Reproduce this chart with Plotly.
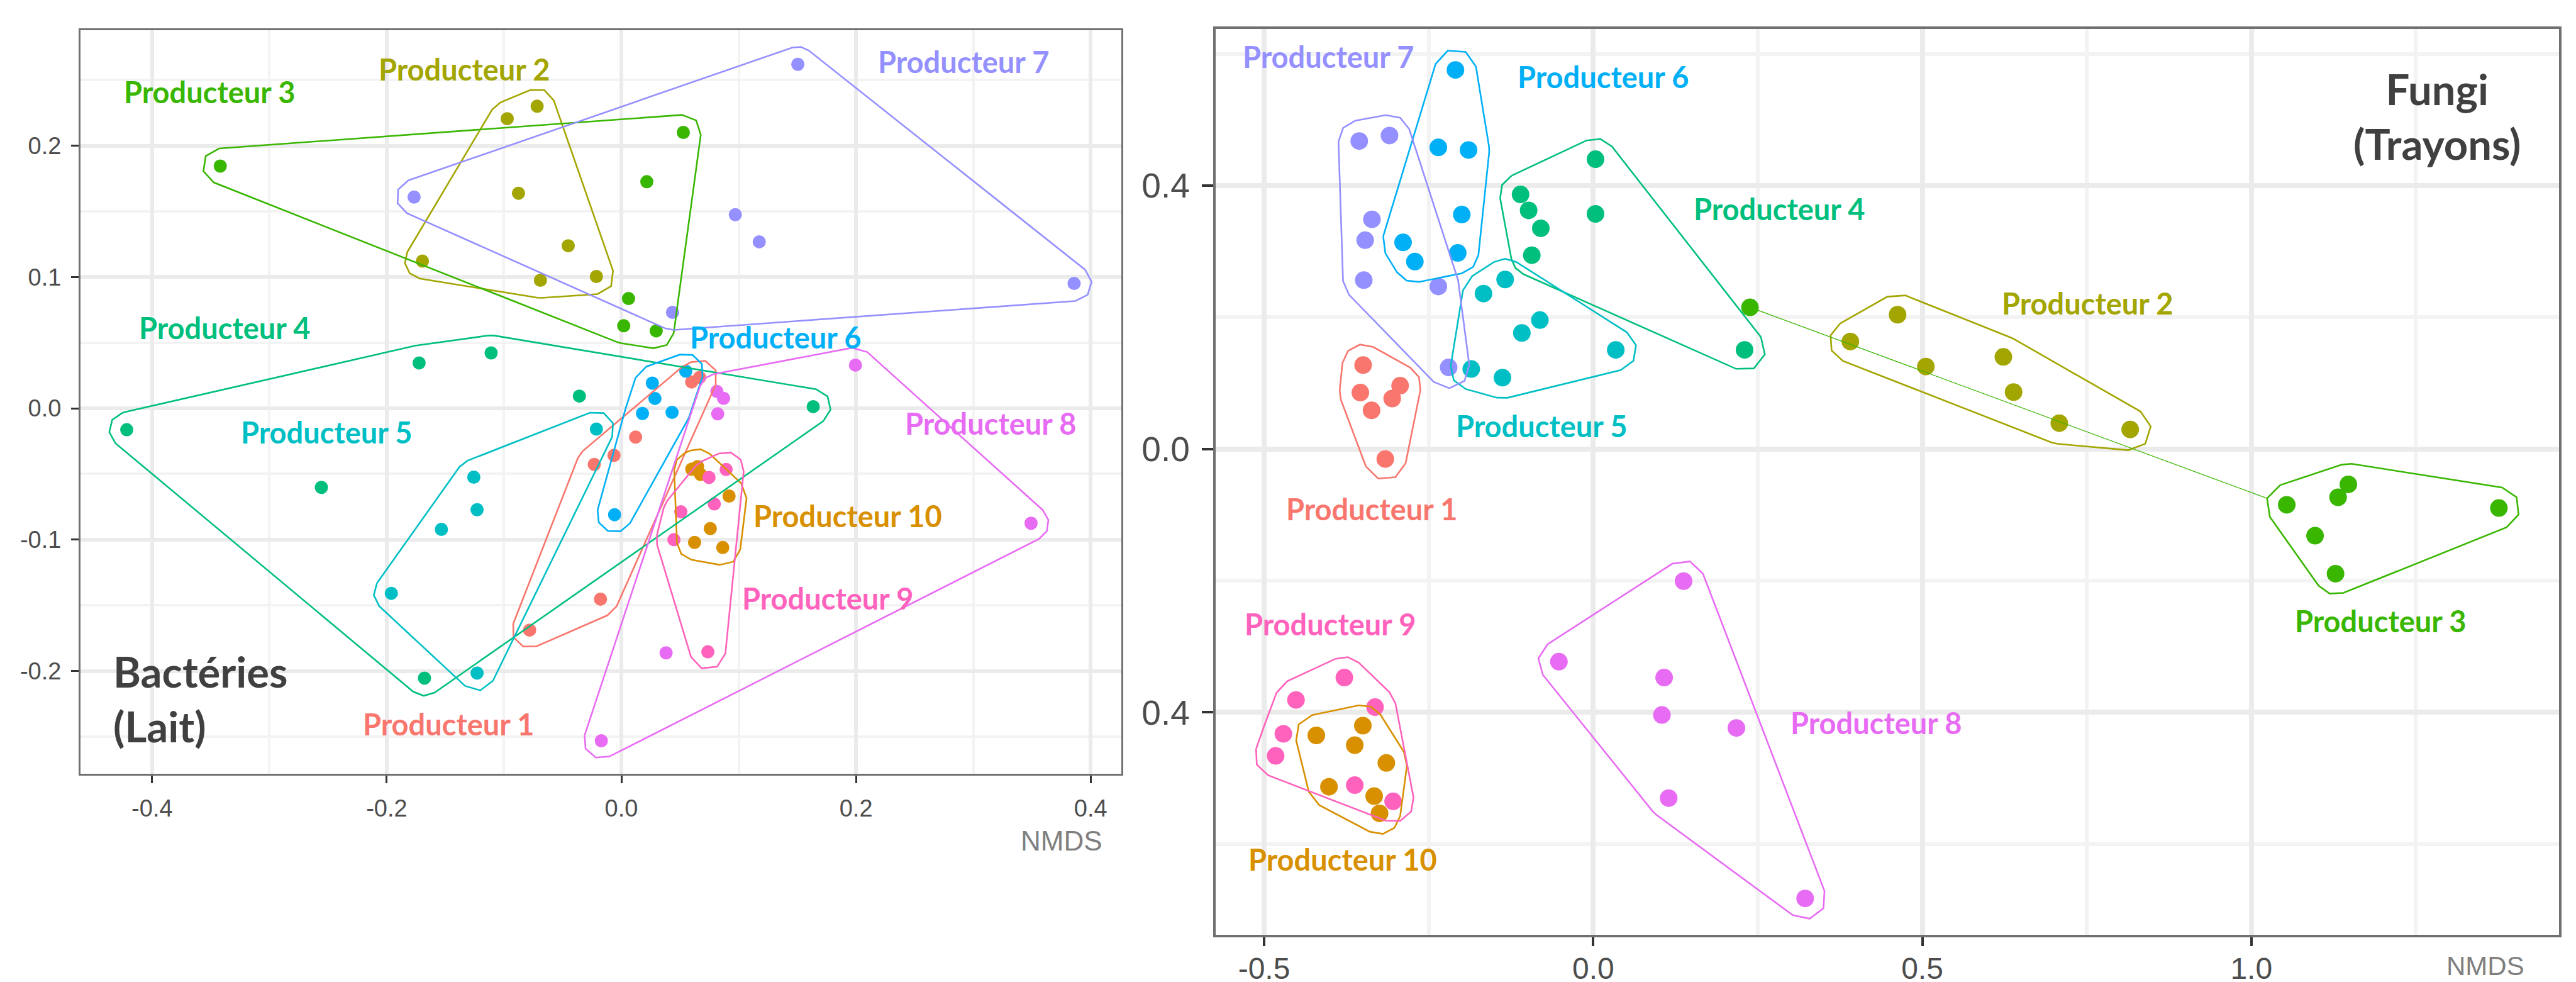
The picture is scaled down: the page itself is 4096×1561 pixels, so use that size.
import numpy as np
import plotly.graph_objects as go

# ---------------- data ----------------
groups = ["Producteur 1", "Producteur 10", "Producteur 2", "Producteur 3", "Producteur 4",
          "Producteur 5", "Producteur 6", "Producteur 7", "Producteur 8", "Producteur 9"]
group_colors = ["#F8766D", "#D89000", "#A3A500", "#39B600", "#00BF7D",
                "#00BFC4", "#00B0F6", "#9590FF", "#E76BF3", "#FF62BC"]

# Bactéries (Lait) NMDS coordinates
bact_x = {
    "Producteur 1": [0.0599, 0.0667, 0.0121, -0.0063, -0.0231, -0.0178, -0.0782],
    "Producteur 10": [0.0600, 0.0650, 0.0675, 0.0918, 0.0758, 0.0624, 0.0864],
    "Producteur 2": [-0.0973, -0.0718, -0.0877, -0.0453, -0.1696, -0.0690, -0.0213],
    "Producteur 3": [-0.3419, 0.0528, 0.0217, 0.0061, 0.0020, 0.0297],
    "Producteur 4": [-0.4216, -0.1724, -0.1110, -0.0358, 0.1635, -0.2557, -0.1678],
    "Producteur 5": [-0.0213, -0.1258, -0.1230, -0.1534, -0.1961, -0.1230],
    "Producteur 6": [0.0549, 0.0264, 0.0286, 0.0180, 0.0432, -0.0058],
    "Producteur 7": [-0.1767, 0.1504, 0.0971, 0.1175, 0.3859, 0.0436],
    "Producteur 8": [0.1995, 0.0814, 0.0871, 0.0821, 0.3492, 0.0381, -0.0171],
    "Producteur 9": [0.0747, 0.0893, 0.0792, 0.0507, 0.0448, 0.0737],
}
bact_y = {
    "Producteur 1": [0.0201, 0.0235, -0.0219, -0.0358, -0.0427, -0.1453, -0.1689],
    "Producteur 10": [-0.0463, -0.0444, -0.0504, -0.0668, -0.0916, -0.1021, -0.1060],
    "Producteur 2": [0.2206, 0.2301, 0.1638, 0.1238, 0.1121, 0.0975, 0.1004],
    "Producteur 3": [0.1845, 0.2101, 0.1726, 0.0836, 0.0629, 0.0590],
    "Producteur 4": [-0.0163, 0.0346, 0.0422, 0.0093, 0.0013, -0.0602, -0.2055],
    "Producteur 5": [-0.0158, -0.0524, -0.0772, -0.0922, -0.1409, -0.2016],
    "Producteur 6": [0.0283, 0.0192, 0.0075, -0.0039, -0.0031, -0.0810],
    "Producteur 7": [0.1609, 0.2620, 0.1475, 0.1268, 0.0951, 0.0731],
    "Producteur 8": [0.0329, 0.0129, 0.0076, -0.0042, -0.0875, -0.1862, -0.2532],
    "Producteur 9": [-0.0526, -0.0466, -0.0728, -0.0788, -0.1000, -0.1854],
}

# Fungi (Trayons) NMDS coordinates
fungi_x = {
    "Producteur 1": [-0.3496, -0.3538, -0.3368, -0.2934, -0.3054, -0.3159],
    "Producteur 10": [-0.4207, -0.3500, -0.3623, -0.3143, -0.4015, -0.3328, -0.3246],
    "Producteur 2": [0.4625, 0.3907, 0.5054, 0.6232, 0.6387, 0.7082, 0.8159],
    "Producteur 3": [0.2382, 1.0538, 1.1474, 1.1318, 1.3761, 1.0968, 1.1279],
    "Producteur 4": [0.0035, -0.1104, -0.0981, -0.0796, 0.0035, -0.0933, 0.2300],
    "Producteur 5": [-0.1338, -0.1667, -0.0810, -0.1084, 0.0343, -0.1853, -0.1379],
    "Producteur 6": [-0.2093, -0.2353, -0.1894, -0.1997, -0.2889, -0.2710, -0.2058],
    "Producteur 7": [-0.3555, -0.3095, -0.3362, -0.3465, -0.3486, -0.2353, -0.2196],
    "Producteur 8": [0.1373, -0.0521, 0.1078, 0.1044, 0.2176, 0.1147, 0.3220],
    "Producteur 9": [-0.3781, -0.4516, -0.3315, -0.4708, -0.4825, -0.3623, -0.3040],
}
fungi_y = {
    "Producteur 1": [0.1275, 0.0857, 0.0588, 0.0962, 0.0767, -0.0152],
    "Producteur 10": [-0.4349, -0.4201, -0.4497, -0.4768, -0.5129, -0.5272, -0.5533],
    "Producteur 2": [0.2040, 0.1632, 0.1253, 0.1399, 0.0865, 0.0393, 0.0297],
    "Producteur 3": [0.2152, -0.0847, -0.0536, -0.0733, -0.0896, -0.1316, -0.1893],
    "Producteur 4": [0.4402, 0.3867, 0.3624, 0.3352, 0.3571, 0.2944, 0.1506],
    "Producteur 5": [0.2575, 0.2361, 0.1958, 0.1763, 0.1506, 0.1215, 0.1084],
    "Producteur 6": [0.5757, 0.4581, 0.4542, 0.3561, 0.3138, 0.2847, 0.2978],
    "Producteur 7": [0.4678, 0.4761, 0.3488, 0.3172, 0.2565, 0.2468, 0.1239],
    "Producteur 8": [-0.2006, -0.3229, -0.3471, -0.4039, -0.4236, -0.5301, -0.6825],
    "Producteur 9": [-0.3471, -0.3811, -0.3920, -0.4325, -0.4660, -0.5104, -0.5350],
}
# points linked to their group's hull by a thin line (index within the group)
fungi_linked = {"Producteur 3": 0}

# tick labels
bact_xticks = [-0.4, -0.2, 0.0, 0.2, 0.4]
bact_xticklabels = ["-0.4", "-0.2", "0.0", "0.2", "0.4"]
bact_yticks = [-0.2, -0.1, 0.0, 0.1, 0.2]
bact_yticklabels = ["-0.2", "-0.1", "0.0", "0.1", "0.2"]
fungi_xticks = [-0.5, 0.0, 0.5, 1.0]
fungi_xticklabels = ["-0.5", "0.0", "0.5", "1.0"]
fungi_yticks = [-0.4, 0.0, 0.4]
fungi_yticklabels = ["0.4", "0.0", "0.4"]

# group label positions (data units)
bact_label_pos = {
    "Producteur 1": (-0.147, -0.2406), "Producteur 10": (0.1932, -0.0817),
    "Producteur 2": (-0.134, 0.2581), "Producteur 3": (-0.351, 0.2408),
    "Producteur 4": (-0.338, 0.0616), "Producteur 5": (-0.2513, -0.018),
    "Producteur 6": (0.1315, 0.0541), "Producteur 7": (0.2918, 0.2639),
    "Producteur 8": (0.315, -0.0114), "Producteur 9": (0.1763, -0.1446),
}
fungi_label_pos = {
    "Producteur 1": (-0.3359, -0.0909), "Producteur 10": (-0.3805, -0.6234),
    "Producteur 2": (0.7511, 0.2217), "Producteur 3": (1.1962, -0.2608),
    "Producteur 4": (0.283, 0.3643), "Producteur 5": (-0.0785, 0.0355),
    "Producteur 6": (0.0159, 0.5655), "Producteur 7": (-0.4025, 0.596),
    "Producteur 8": (0.4305, -0.4156), "Producteur 9": (-0.3995, -0.2658),
}

# ---------------- layout geometry ----------------
W, H = 4096, 1561
L_XD, L_YD = [0.02926, 0.43342], [0.21717, 0.97414]
L_XR, L_YR = [-0.4611, 0.4263], [-0.2783, 0.2878]
R_XD, R_YD = [0.46995, 0.99141], [0.05300, 0.97559]
R_XR, R_YR = [-0.5737, 1.4673], [-0.7380, 0.6379]


def px_scale(xd, yd, xr, yr):
    return ((xd[1] - xd[0]) * W / (xr[1] - xr[0]),
            (yd[1] - yd[0]) * H / (yr[1] - yr[0]))


def expanded_hull(xs, ys, sx, sy, r, step=np.radians(55)):
    """Convex hull expanded by r pixels with (segmented) round corners."""
    pts = sorted(set(zip((np.array(xs) * sx).tolist(), (np.array(ys) * sy).tolist())))

    def cross(o, a, b):
        return (a[0] - o[0]) * (b[1] - o[1]) - (a[1] - o[1]) * (b[0] - o[0])

    lower, upper = [], []
    for p in pts:
        while len(lower) >= 2 and cross(lower[-2], lower[-1], p) <= 0:
            lower.pop()
        lower.append(p)
    for p in reversed(pts):
        while len(upper) >= 2 and cross(upper[-2], upper[-1], p) <= 0:
            upper.pop()
        upper.append(p)
    hull = lower[:-1] + upper[:-1]
    n = len(hull)
    out = []
    for i in range(n):
        p0, p1, p2 = np.array(hull[i - 1]), np.array(hull[i]), np.array(hull[(i + 1) % n])
        e1, e2 = p1 - p0, p2 - p1
        n1 = np.array([e1[1], -e1[0]]) / np.hypot(*e1)
        n2 = np.array([e2[1], -e2[0]]) / np.hypot(*e2)
        t1 = np.arctan2(n1[1], n1[0])
        t2 = np.arctan2(n2[1], n2[0])
        turn = (t2 - t1) % (2 * np.pi)
        k = max(1, int(np.ceil(turn / step)))
        for t in np.linspace(t1, t1 + turn, k + 1):
            out.append(p1 + r * np.array([np.cos(t), np.sin(t)]))
    out.append(out[0])
    out = np.array(out)
    return out[:, 0] / sx, out[:, 1] / sy


fig = go.Figure()


def add_panel(xd, yd, xr, yr, data_x, data_y, xa, ya, msize, r, lw, linked=None):
    linked = linked or {}
    sx, sy = px_scale(xd, yd, xr, yr)
    for g, c in zip(groups, group_colors):
        fig.add_trace(go.Scatter(x=data_x[g], y=data_y[g], mode="markers", xaxis=xa, yaxis=ya,
                                 marker=dict(size=msize, color=c, line=dict(width=0)),
                                 hoverinfo="skip", showlegend=False))
    for g, c in zip(groups, group_colors):
        xs, ys = list(data_x[g]), list(data_y[g])
        link = None
        if g in linked:
            j = linked[g]
            link = (xs.pop(j), ys.pop(j))
        hx, hy = expanded_hull(xs, ys, sx, sy, r)
        fig.add_trace(go.Scatter(x=hx, y=hy, mode="lines", xaxis=xa, yaxis=ya,
                                 line=dict(color=c, width=lw), hoverinfo="skip", showlegend=False))
        if link is not None:
            dist = np.hypot((hx - link[0]) * sx, (hy - link[1]) * sy)
            k = int(np.argmin(dist))
            fig.add_trace(go.Scatter(x=[link[0], hx[k]], y=[link[1], hy[k]], mode="lines",
                                     xaxis=xa, yaxis=ya, line=dict(color=c, width=1.3),
                                     hoverinfo="skip", showlegend=False))


add_panel(L_XD, L_YD, L_XR, L_YR, bact_x, bact_y, "x", "y", 21, 28, 2.6)
add_panel(R_XD, R_YD, R_XR, R_YR, fungi_x, fungi_y, "x2", "y2", 28, 33, 2.6, fungi_linked)

LABEL_FONT = "Lato"
annotations = []
for g, c in zip(groups, group_colors):
    lx, ly = bact_label_pos[g]
    annotations.append(dict(x=lx, y=ly, xref="x", yref="y", text=g, showarrow=False,
                            xanchor="center", yanchor="middle",
                            font=dict(family=LABEL_FONT, size=47, color=c, weight=700)))
    fx, fy = fungi_label_pos[g]
    annotations.append(dict(x=fx, y=fy, xref="x2", yref="y2", text=g, showarrow=False,
                            xanchor="center", yanchor="middle",
                            font=dict(family=LABEL_FONT, size=47, color=c, weight=700)))

annotations.append(dict(x=-0.4343, y=-0.2212, xref="x", yref="y", text="Bactéries<br>(Lait)",
                        showarrow=False, xanchor="left", yanchor="middle", align="left",
                        font=dict(family=LABEL_FONT, size=67, color="#404040", weight=700)))
annotations.append(dict(x=1.2817, y=0.5058, xref="x2", yref="y2", text="Fungi<br>(Trayons)",
                        showarrow=False, xanchor="center", yanchor="middle", align="center",
                        font=dict(family=LABEL_FONT, size=67, color="#404040", weight=700)))
annotations.append(dict(x=0.42644, y=0.14882, xref="paper", yref="paper", text="NMDS",
                        showarrow=False, xanchor="right", yanchor="middle",
                        font=dict(family="Liberation Sans", size=44, color="#7F7F7F")))
annotations.append(dict(x=0.97847, y=0.0215, xref="paper", yref="paper", text="NMDS",
                        showarrow=False, xanchor="right", yanchor="middle",
                        font=dict(family="Liberation Sans", size=42, color="#7F7F7F")))


def axis_common(domain, rng, tickvals, ticktext, minor_vals, anchor, fsize, lwidth, tlen,
                gmaj, gmin, standoff):
    return dict(domain=domain, range=rng, anchor=anchor, tickmode="array",
                tickvals=tickvals, ticktext=ticktext, showgrid=True, gridcolor="#EBEBEB",
                gridwidth=gmaj, zeroline=False, showline=True, mirror=True,
                linecolor="#707070", linewidth=lwidth, ticks="outside", ticklen=tlen,
                tickwidth=lwidth, tickcolor="#333333", ticklabelstandoff=standoff,
                tickfont=dict(family="Liberation Sans", size=fsize, color="#4D4D4D"),
                minor=dict(tickvals=minor_vals, showgrid=True, gridcolor="#F3F3F3",
                           gridwidth=gmin, ticks=""))


fig.update_layout(
    width=W, height=H, autosize=False, margin=dict(l=0, r=0, t=0, b=0),
    paper_bgcolor="white", plot_bgcolor="white", showlegend=False,
    xaxis=axis_common(L_XD, L_XR, bact_xticks, bact_xticklabels, [-0.3, -0.1, 0.1, 0.3],
                      "y", 38, 2.6, 12, 6, 4, 8),
    yaxis=axis_common(L_YD, L_YR, bact_yticks, bact_yticklabels,
                      [-0.25, -0.15, -0.05, 0.05, 0.15, 0.25], "x", 38, 2.6, 12, 6, 4, 8),
    xaxis2=axis_common(R_XD, R_XR, fungi_xticks, fungi_xticklabels, [-0.25, 0.25, 0.75, 1.25],
                       "y2", 48, 4.2, 14, 8, 6, -6),
    yaxis2=axis_common(R_YD, R_YR, fungi_yticks, fungi_yticklabels, [-0.6, -0.2, 0.2, 0.6],
                       "x2", 55, 4.2, 18, 8, 6, 8),
    annotations=annotations,
)

fig.write_html("out.html")
